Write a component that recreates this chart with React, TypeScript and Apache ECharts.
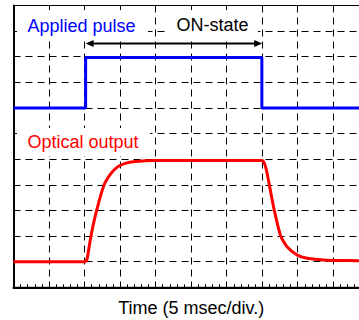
import React, { useEffect, useRef } from "react";
import * as echarts from "echarts";

// time axis: 10 divisions of 5 ms
const timeMin = 0;
const timeMax = 50;
const timeStep = 5;
// vertical axis: 11 divisions
const levelMin = 0;
const levelMax = 11;
const levelStep = 1;

// applied pulse (divisions)
const pulseTime = [0, 10.15, 10.15, 34.95, 34.95, 50];
const pulseLevel = [7, 7, 8.97, 8.97, 7, 7];

// optical output (divisions)
const opticalTime = [
  0, 10.1, 10.35, 10.9, 11.7, 12.75, 13.7, 14.65, 15.6, 17.2, 20, 25, 30, 34.95,
  35.3, 35.6, 36.0, 36.7, 37.6, 38.5, 39.9, 41.3, 44.1, 48.3, 50,
];
const opticalLevel = [
  1.0, 1.0, 1.1, 2.0, 3.0, 4.0, 4.44, 4.7, 4.83, 4.91, 4.95, 4.95, 4.95, 4.95,
  4.85, 4.57, 4.0, 3.0, 2.0, 1.58, 1.26, 1.13, 1.06, 1.04, 1.03,
];

// ON-state arrow: start, end, level
const onStart = [10.15];
const onEnd = [35.0];
const onLevel = [9.52];

const labelTexts = ["Applied pulse", "ON-state", "Optical output"];
const axisTitle = "Time (5 msec/div.)";

const FONT = "'Liberation Sans', Arial, sans-serif";

export default function App() {
  const ref = useRef<HTMLDivElement>(null);
  useEffect(() => {
    if (!ref.current) return;
    const chart = echarts.init(ref.current, null, { renderer: "svg" });
    const dashed = { color: "#000", width: 1, type: [7, 5] as any };
    chart.setOption({
      animation: false,
      backgroundColor: "#fff",
      grid: {
        show: true,
        left: 13.5,
        top: 5.5,
        width: 355.3,
        height: 281.8,
        outerBoundsMode: "none",
        containLabel: false,
        borderColor: "#000",
        borderWidth: 1,
        backgroundColor: "transparent",
      },
      xAxis: {
        type: "value",
        min: timeMin,
        max: timeMax,
        interval: timeStep,
        name: axisTitle,
        nameLocation: "middle",
        nameGap: 12,
        nameTextStyle: { fontFamily: FONT, fontSize: 18, color: "#000" },
        axisLine: { show: true, lineStyle: { color: "#000", width: 2 } },
        axisTick: { show: true, inside: true, length: 4, lineStyle: { color: "#000" } },
        minorTick: { show: true, splitNumber: 5, length: 3, lineStyle: { color: "#000" } },
        axisLabel: { show: false },
        splitLine: { show: true, lineStyle: dashed },
      },
      yAxis: {
        type: "value",
        min: levelMin,
        max: levelMax,
        interval: levelStep,
        axisLine: { show: true, lineStyle: { color: "#000", width: 2 } },
        axisTick: { show: true, inside: true, length: 3, lineStyle: { color: "#000" } },
        axisLabel: { show: false },
        splitLine: { show: true, lineStyle: dashed },
      },
      graphic: [
        { type: "rect", z: 1, shape: { x: 17, y: 10, width: 131, height: 28 }, style: { fill: "#fff" } },
        { type: "rect", z: 1, shape: { x: 166, y: 10, width: 92, height: 28 }, style: { fill: "#fff" } },
        { type: "rect", z: 1, shape: { x: 17, y: 128, width: 133, height: 28 }, style: { fill: "#fff" } },
        {
          type: "text", z: 10, x: 27.5, y: 26,
          style: { text: labelTexts[0], fill: "#0000ff", font: `18px ${FONT}`, textAlign: "left", textVerticalAlign: "middle", align: "left", verticalAlign: "middle" },
        },
        {
          type: "text", z: 10, x: 176.5, y: 24.5,
          style: { text: labelTexts[1], fill: "#000", font: `18px ${FONT}`, textAlign: "left", textVerticalAlign: "middle", align: "left", verticalAlign: "middle" },
        },
        {
          type: "text", z: 10, x: 27.5, y: 142,
          style: { text: labelTexts[2], fill: "#ff0000", font: `18px ${FONT}`, textAlign: "left", textVerticalAlign: "middle", align: "left", verticalAlign: "middle" },
        },
      ],
      series: [
        {
          type: "line",
          data: pulseTime.map((t, i) => [t, pulseLevel[i]]),
          showSymbol: false,
          lineStyle: { color: "#0000ff", width: 3 },
          z: 5,
        },
        {
          type: "line",
          data: opticalTime.map((t, i) => [t, opticalLevel[i]]),
          showSymbol: false,
          smooth: 0.2,
          lineStyle: { color: "#ff0000", width: 3 },
          z: 5,
        },
        {
          type: "custom",
          z: 6,
          clip: false,
          encode: { x: [0, 1], y: 2 },
          data: onStart.map((s, i) => [s, onEnd[i], onLevel[i]]),
          renderItem: (params: any, api: any) => {
            const p0 = api.coord([api.value(0), api.value(2)]);
            const p1 = api.coord([api.value(1), api.value(2)]);
            const hl = 8;
            const hw = 3.5;
            return {
              type: "group",
              children: [
                { type: "line", shape: { x1: p0[0] + hl - 1, y1: p0[1], x2: p1[0] - hl + 1, y2: p1[1] }, style: { stroke: "#000", lineWidth: 2 } },
                { type: "polygon", shape: { points: [[p0[0], p0[1]], [p0[0] + hl, p0[1] - hw], [p0[0] + hl, p0[1] + hw]] }, style: { fill: "#000" } },
                { type: "polygon", shape: { points: [[p1[0], p1[1]], [p1[0] - hl, p1[1] - hw], [p1[0] - hl, p1[1] + hw]] }, style: { fill: "#000" } },
              ],
            };
          },
        },
      ],
    });
    return () => chart.dispose();
  }, []);
  return (
    <div
      style={{ position: "fixed", left: 0, top: 0, width: 359, height: 320, overflow: "hidden", background: "#fff" }}
    >
      <div ref={ref} style={{ width: 384, height: 320 }} />
    </div>
  );
}
